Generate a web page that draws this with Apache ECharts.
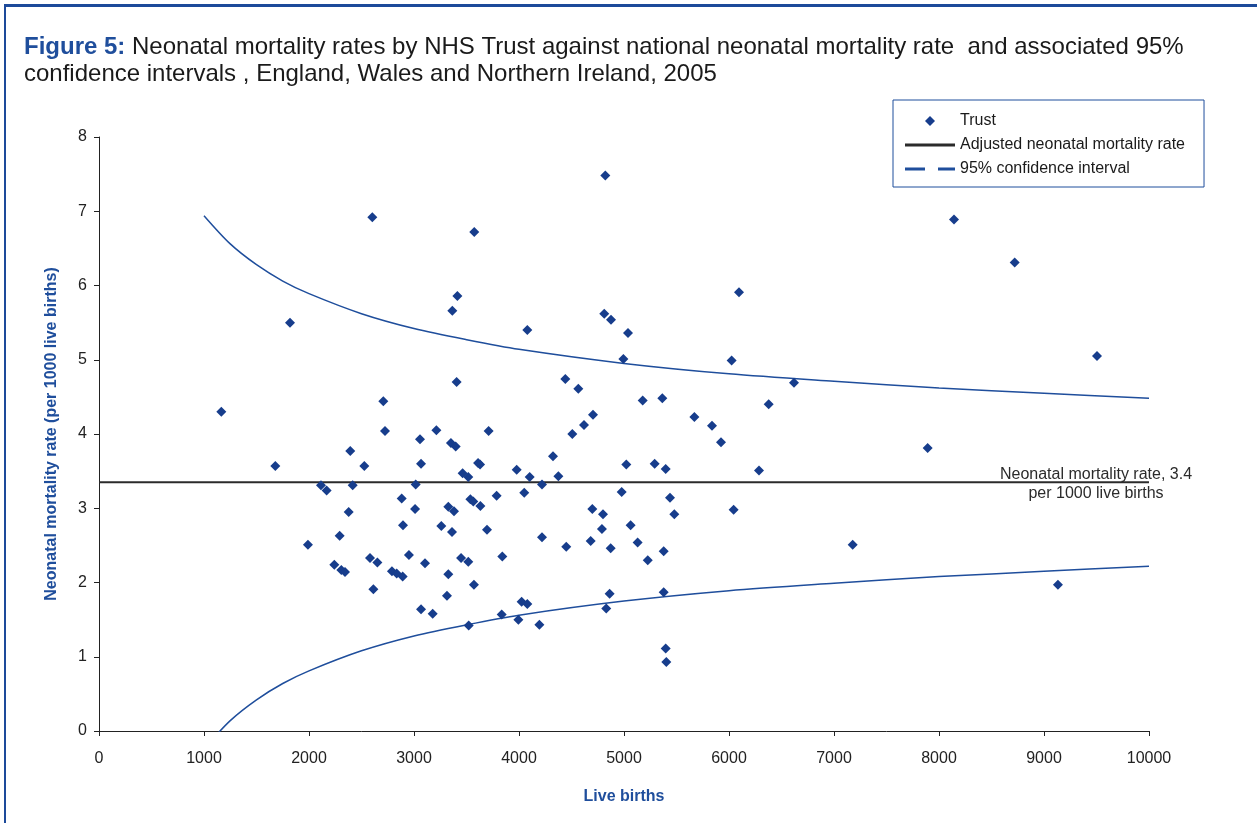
<!DOCTYPE html>
<html>
<head>
<meta charset="utf-8">
<title>Figure 5</title>
<script src="https://cdn.jsdelivr.net/npm/echarts@6/dist/echarts.min.js"></script>
<style>
    html, body { margin: 0; padding: 0; background: #fff; }
    #frame {
        position: absolute; left: 4px; top: 4px; width: 1400px; height: 900px;
        border-top: 3px solid #1d4a9a; border-left: 2px solid #1d4a9a;
    }
    #chart { position: absolute; left: 0; top: 0; width: 1257px; height: 823px; }
</style>
</head>
<body>
<div id="frame"></div>
<div id="chart"></div>
<script>
// Trust points: live births / neonatal mortality rate (per 1000)
const trustBirths = [1165, 1679, 1819, 1990, 2114, 2168, 2241, 2292, 2308, 2343, 2378, 2393, 2416, 2527, 2581,
    2603, 2613, 2651, 2708, 2724, 2790, 2835, 2883, 2892, 2895, 2952, 3010, 3016, 3057, 3067, 3067, 3105, 3178,
    3213, 3260, 3314, 3327, 3327, 3352, 3362, 3365, 3381, 3397, 3406, 3413, 3448, 3463, 3517, 3517, 3521, 3537,
    3565, 3571, 3574, 3610, 3629, 3632, 3695, 3711, 3787, 3835, 3841, 3978, 3994, 4025, 4050, 4079, 4079, 4102,
    4194, 4219, 4219, 4324, 4375, 4441, 4450, 4508, 4565, 4619, 4683, 4698, 4705, 4790, 4800, 4812, 4822, 4831,
    4863, 4873, 4876, 4978, 4994, 5022, 5038, 5063, 5130, 5178, 5226, 5292, 5365, 5378, 5378, 5397, 5397, 5403,
    5438, 5479, 5670, 5838, 5924, 6025, 6044, 6095, 6286, 6378, 6619, 7178, 7892, 8143, 8721, 9133, 9505];
const trustRates = [4.30, 3.57, 5.50, 2.51, 3.31, 3.24, 2.24, 2.63, 2.17, 2.14, 2.95, 3.77, 3.31, 3.57, 2.33,
    6.92, 1.91, 2.27, 4.44, 4.04, 2.15, 2.12, 3.13, 2.08, 2.77, 2.37, 2.99, 3.32, 3.93, 3.60, 1.64, 2.26, 1.58,
    4.05, 2.76, 1.82, 2.11, 3.02, 3.88, 2.68, 5.66, 2.96, 3.83, 4.70, 5.86, 2.33, 3.47, 3.42, 2.28, 1.42, 3.12,
    3.09, 1.97, 6.72, 3.61, 3.59, 3.03, 2.71, 4.04, 3.17, 1.57, 2.35, 3.52, 1.50, 1.74, 3.21, 1.71, 5.40, 3.42,
    1.43, 3.32, 2.61, 3.70, 3.43, 4.74, 2.48, 4.00, 4.61, 4.12, 2.56, 2.99, 4.26, 2.72, 2.92, 5.62, 7.48, 1.65,
    1.85, 2.46, 5.54, 3.22, 5.01, 3.59, 5.36, 2.77, 2.54, 4.45, 2.30, 3.60, 4.48, 2.42, 1.87, 3.53, 1.11, 0.93,
    3.14, 2.92, 4.23, 4.11, 3.89, 4.99, 2.98, 5.91, 3.51, 4.40, 4.69, 2.51, 3.81, 6.89, 6.31, 1.97, 5.05];

// national rate line
const nationalBirths = [0, 10000];
const nationalRate = [3.35, 3.35];

// 95% confidence interval curves
const ciBirths = [1000, 1250, 1500, 1750, 2000, 2500, 3000, 3500, 4000, 5000, 6000, 7000, 8000, 9000, 10000];
const ciUpper = [6.94, 6.56, 6.28, 6.06, 5.89, 5.62, 5.42, 5.27, 5.14, 4.95, 4.81, 4.71, 4.62, 4.55, 4.48];
const ciLower = [-0.24, 0.14, 0.42, 0.64, 0.81, 1.08, 1.28, 1.43, 1.56, 1.75, 1.89, 1.99, 2.08, 2.15, 2.22];

const blue = '#173d8c';
const navy = '#1f4e9c';
const font = 'Liberation Sans, Arial, sans-serif';

const chart = echarts.init(document.getElementById('chart'), null, {renderer: 'canvas'});

const option = {
    animation: false,
    textStyle: {fontFamily: font},
    title: {
        left: 24,
        top: 34,
        padding: 0,
        text: '{b|Figure 5:} Neonatal mortality rates by NHS Trust against national neonatal mortality rate  and associated 95%\nconfidence intervals , England, Wales and Northern Ireland, 2005',
        textStyle: {
            fontFamily: font, fontSize: 24, fontWeight: 'normal', color: '#1a1a1a', lineHeight: 27,
            rich: {b: {fontFamily: font, fontSize: 24, fontWeight: 'bold', color: navy, lineHeight: 27}}
        }
    },
    legend: {
        orient: 'vertical',
        left: 893,
        top: 100,
        padding: [13, 19, 10, 12],
        itemWidth: 50,
        itemHeight: 10,
        itemGap: 8,
        symbolKeepAspect: true,
        borderColor: navy,
        borderWidth: 1,
        textStyle: {fontFamily: font, fontSize: 16, color: '#1a1a1a'},
        data: [
            {name: 'Trust', icon: 'path://M5,0 L10,5 L5,10 L0,5 Z'},
            {name: 'Adjusted neonatal mortality rate', icon: 'path://M0,0 L50,0 L50,3 L0,3 Z'},
            {name: '95% confidence interval', icon: 'path://M0,0 L20,0 L20,3 L0,3 Z M33,0 L50,0 L50,3 L33,3 Z'}
        ]
    },
    grid: {left: 99, right: 108, top: 137, bottom: 92},
    xAxis: {
        type: 'value',
        min: 0,
        max: 10000,
        interval: 1000,
        name: 'Live births',
        nameLocation: 'middle',
        nameGap: 58,
        nameTextStyle: {fontFamily: font, fontSize: 16, fontWeight: 'bold', color: navy},
        axisLine: {lineStyle: {color: '#222', width: 1}},
        axisTick: {show: true, length: 5, lineStyle: {color: '#222'}},
        axisLabel: {margin: 20, fontFamily: font, fontSize: 16, color: '#222', formatter: v => String(v)},
        splitLine: {show: false}
    },
    yAxis: {
        type: 'value',
        min: 0,
        max: 8,
        interval: 1,
        name: 'Neonatal mortality rate (per 1000 live births)',
        nameLocation: 'middle',
        nameGap: 39,
        nameTextStyle: {fontFamily: font, fontSize: 16, fontWeight: 'bold', color: navy},
        axisLine: {show: true, lineStyle: {color: '#222', width: 1}},
        axisTick: {show: true, length: 5, lineStyle: {color: '#222'}},
        axisLabel: {margin: 12, fontFamily: font, fontSize: 16, color: '#222'},
        splitLine: {show: false}
    },
    series: [
        {
            name: 'Trust',
            type: 'scatter',
            symbol: 'diamond',
            symbolSize: 10,
            itemStyle: {color: blue, opacity: 1},
            z: 5,
            data: trustBirths.map((b, i) => [b, trustRates[i]])
        },
        {
            name: 'Adjusted neonatal mortality rate',
            type: 'line',
            symbol: 'circle',
            symbolSize: 0,
            showSymbol: true,
            lineStyle: {color: '#2b2b2b', width: 2},
            itemStyle: {color: '#2b2b2b'},
            data: nationalBirths.map((b, i) => {
                const p = {value: [b, nationalRate[i]]};
                if (i === nationalBirths.length - 1) {
                    p.label = {
                        show: true,
                        position: 'inside',
                        offset: [-53, 2],
                        align: 'center',
                        formatter: 'Neonatal mortality rate, 3.4\nper 1000 live births',
                        fontFamily: font,
                        fontSize: 16,
                        lineHeight: 19,
                        color: '#2b2b2b'
                    };
                }
                return p;
            })
        },
        {
            name: '95% confidence interval',
            type: 'line',
            symbol: 'none',
            smooth: 0.3,
            clip: true,
            lineStyle: {color: navy, width: 1.5},
            itemStyle: {color: navy},
            data: ciBirths.map((b, i) => [b, ciUpper[i]])
        },
        {
            name: '95% confidence interval',
            type: 'line',
            symbol: 'none',
            smooth: 0.3,
            clip: true,
            lineStyle: {color: navy, width: 1.5},
            itemStyle: {color: navy},
            data: ciBirths.map((b, i) => [b, ciLower[i]])
        }
    ]
};

chart.setOption(option);
</script>
</body>
</html>
